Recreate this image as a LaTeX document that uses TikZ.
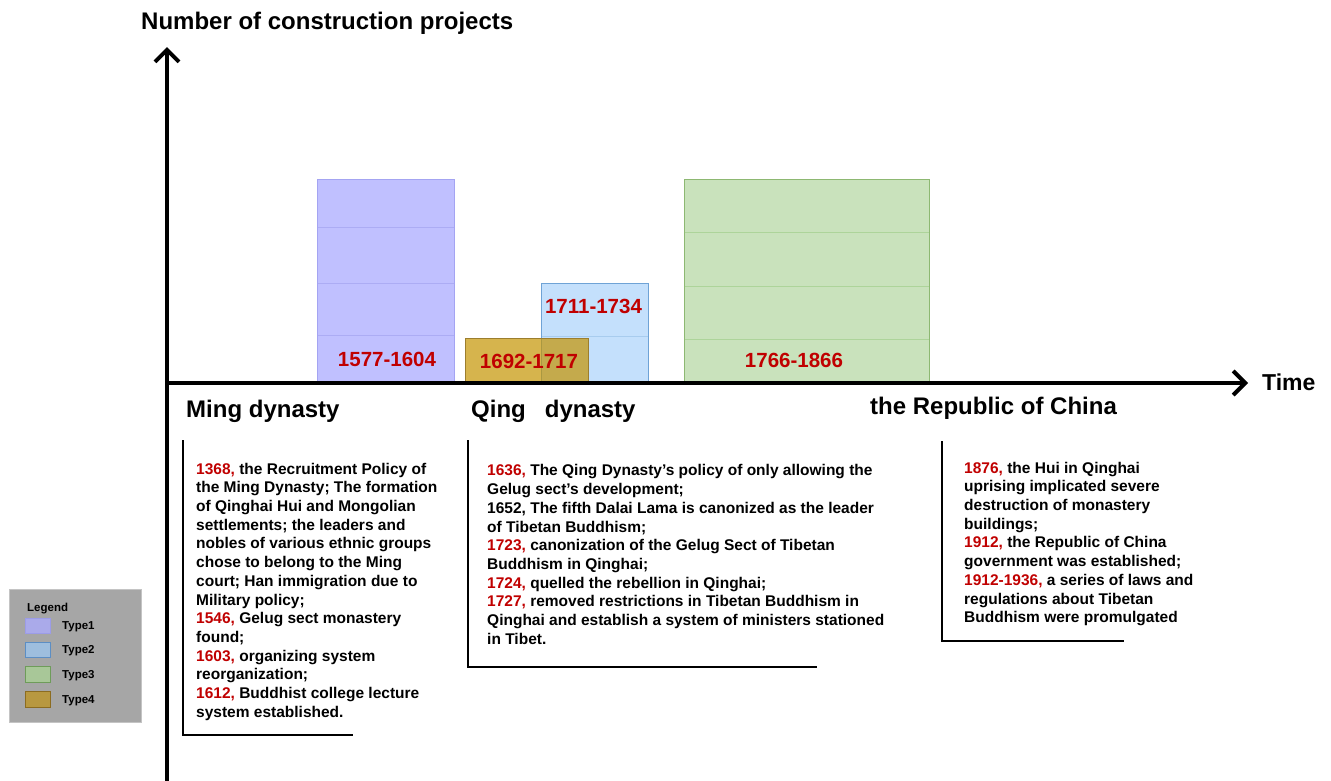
\documentclass[tikz,border=0pt]{standalone}
\usepackage{fontspec}
\setmainfont{Liberation Sans}
\usetikzlibrary{arrows.meta}

% palette
\definecolor{yr}{HTML}{C00000}
\definecolor{tonefill}{HTML}{C0C0FF}
\definecolor{toneedge}{HTML}{A4A4F2}
\definecolor{toneline}{HTML}{ACACF4}
\definecolor{ttwofill}{HTML}{C4E0FC}
\definecolor{ttwoedge}{HTML}{6FA3D6}
\definecolor{ttwoline}{HTML}{A8CCEE}
\definecolor{tthreefill}{HTML}{C9E2BC}
\definecolor{tthreeedge}{HTML}{8DB872}
\definecolor{tthreeline}{HTML}{ADD49A}
\definecolor{tfourfill}{RGB}{196,148,2}
\definecolor{tfouredge}{HTML}{9C7E2E}
\definecolor{legbg}{HTML}{A6A6A6}
\definecolor{legedge}{HTML}{C4C4C4}

\newcommand{\yrs}[1]{\textcolor{yr}{#1}}

\tikzset{
  axisline/.style={line width=4pt,-{Straight Barb[length=12pt,width=24pt]}},
  bracketline/.style={line width=2.5pt},
  barlabel/.style={font=\fontsize{20.5}{24}\selectfont\bfseries, text=yr, inner sep=0pt},
  eralabel/.style={font=\fontsize{24}{28}\selectfont\bfseries, inner sep=0pt, anchor=base west},
  notes/.style={font=\fontsize{15.5}{18.7}\selectfont\bfseries, align=left, inner sep=0pt, anchor=north west},
  legtext/.style={font=\fontsize{11.5}{13}\selectfont\bfseries, inner sep=0pt, anchor=base west},
}

\begin{document}
\begin{tikzpicture}[x=1pt,y=-1pt]
\useasboundingbox (0,0) rectangle (1331,780);

% ---- bars ----
% Type1
\filldraw[fill=tonefill, draw=toneedge, line width=1pt] (317,179) rectangle (454,383);
\foreach \yy in {227,283,335} \draw[toneline, line width=1pt] (317.5,\yy) -- (453.5,\yy);
% Type2
\filldraw[fill=ttwofill, draw=ttwoedge, line width=1pt] (541,283) rectangle (648,383);
\draw[ttwoline, line width=1pt] (541.5,336) -- (647.5,336);
% Type4 (translucent, over Type2)
\fill[tfourfill, fill opacity=0.7] (465,338) rectangle (588,383);
\draw[tfouredge, line width=1pt] (465,338) rectangle (588,383);
% Type3
\filldraw[fill=tthreefill, draw=tthreeedge, line width=1pt] (684,179) rectangle (929,383);
\foreach \yy in {232,286,339} \draw[tthreeline, line width=1pt] (684.5,\yy) -- (928.5,\yy);

% ---- bar labels ----
\node[barlabel] (l1) at (387,359.5) {1577-1604};
\node[barlabel] (l4) at (529,361) {1692-1717};
\node[barlabel] (l2) at (593.5,306) {1711-1734};
\node[barlabel] (l3) at (794,360.5) {1766-1866};

% ---- axes ----
\coordinate (ybot) at (167,782);
\coordinate (ytop) at (167,47);
\coordinate (xorg) at (165,383);
\coordinate (xend) at (1248,383);
\draw[axisline] (ybot) -- (ytop);
\draw[axisline] (xorg) -- (xend);

\node[font=\fontsize{24}{28}\selectfont\bfseries, inner sep=0pt, anchor=base west] (ylab) at (141,29) {Number of construction projects};
\node[font=\fontsize{23}{28}\selectfont\bfseries, inner sep=0pt, anchor=base west] (xlab) at (1262,390) {Time};

% ---- eras ----
\node[eralabel] (ming) at (186,417) {Ming dynasty};
\node[eralabel] (qing) at (471,417) {Qing\hspace{19pt}dynasty};
\node[eralabel] (roc) at (870,414) {the Republic of China};

% ---- notes with brackets ----
\coordinate (b1t) at (183,440);
\coordinate (b1c) at (183,735);
\coordinate (b1e) at (353,735);
\draw[bracketline] (b1t) -- (b1c) -- (b1e);
\node[notes] (n1) at (196,462.7) {%
\yrs{1368,} the Recruitment Policy of\\
the Ming Dynasty; The formation\\
of Qinghai Hui and Mongolian\\
settlements; the leaders and\\
nobles of various ethnic groups\\
chose to belong to the Ming\\
court; Han immigration due to\\
Military policy;\\
\yrs{1546,} Gelug sect monastery\\
found;\\
\yrs{1603,} organizing system\\
reorganization;\\
\yrs{1612,} Buddhist college lecture\\
system established.};

\coordinate (b2t) at (468,440);
\coordinate (b2c) at (468,667);
\coordinate (b2e) at (817,667);
\draw[bracketline] (b2t) -- (b2c) -- (b2e);
\node[notes] (n2) at (487,464.5) {%
\yrs{1636,} The Qing Dynasty's policy of only allowing the\\
Gelug sect's development;\\
1652, The fifth Dalai Lama is canonized as the leader\\
of Tibetan Buddhism;\\
\yrs{1723,} canonization of the Gelug Sect of Tibetan\\
Buddhism in Qinghai;\\
\yrs{1724,} quelled the rebellion in Qinghai;\\
\yrs{1727,} removed restrictions in Tibetan Buddhism in\\
Qinghai and establish a system of ministers stationed\\
in Tibet.};

\coordinate (b3t) at (942,441);
\coordinate (b3c) at (942,641);
\coordinate (b3e) at (1124,641);
\draw[bracketline] (b3t) -- (b3c) -- (b3e);
\node[notes] (n3) at (964,461.7) {%
\yrs{1876,} the Hui in Qinghai\\
uprising implicated severe\\
destruction of monastery\\
buildings;\\
\yrs{1912,} the Republic of China\\
government was established;\\
\yrs{1912-1936,} a series of laws and\\
regulations about Tibetan\\
Buddhism were promulgated};

% ---- legend ----
\filldraw[fill=legbg, draw=legedge, line width=1pt] (9,589) rectangle (141,722);
\node[legtext] (legt) at (27,611) {Legend};
\filldraw[fill={rgb,255:red,170;green,170;blue,234}, draw={rgb,255:red,156;green,156;blue,232}, line width=1pt] (25,618) rectangle (50,633);
\node[legtext] (k1) at (62,629) {Type1};
\filldraw[fill={rgb,255:red,158;green,190;blue,222}, draw={rgb,255:red,92;green,142;blue,196}, line width=1pt] (25,642) rectangle (50,657);
\node[legtext] (k2) at (62,653) {Type2};
\filldraw[fill={rgb,255:red,168;green,199;blue,152}, draw={rgb,255:red,110;green,156;blue,90}, line width=1pt] (25,666) rectangle (50,682);
\node[legtext] (k3) at (62,678) {Type3};
\filldraw[fill={rgb,255:red,184;green,152;blue,64}, draw={rgb,255:red,140;green,108;blue,32}, line width=1pt] (25,691) rectangle (50,707);
\node[legtext] (k4) at (62,703) {Type4};
\end{tikzpicture}
\end{document}
